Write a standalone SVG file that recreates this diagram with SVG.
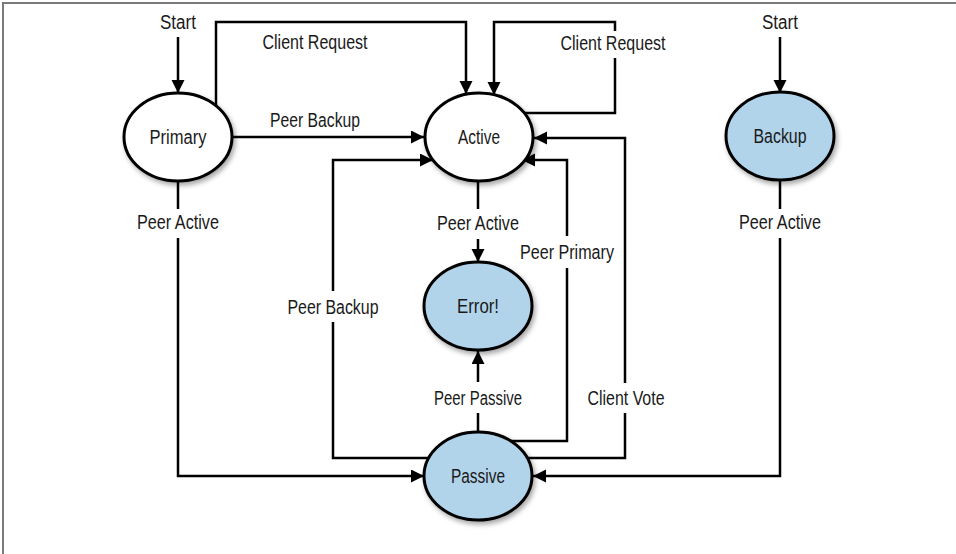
<svg xmlns="http://www.w3.org/2000/svg" width="956" height="554" viewBox="0 0 956 554">
<style>
.node{stroke:#000;stroke-width:3;filter:url(#sh)}
.w{fill:#fff}
.b{fill:#b2d4ea}
.t{font-family:"Liberation Sans",Arial,sans-serif;font-size:19.5px;fill:#1a1a1a;text-anchor:middle;dominant-baseline:central}
.c{fill:none;stroke:#000;stroke-width:2.5;marker-end:url(#ah)}
</style>
<defs>
<marker id="ah" markerUnits="userSpaceOnUse" markerWidth="14" markerHeight="14" refX="13" refY="6.5" orient="auto">
<path d="M0,0 L13,6.5 L0,13 z" fill="#000"/>
</marker>
<filter id="sh" x="-20%" y="-20%" width="150%" height="150%">
<feDropShadow dx="2" dy="3" stdDeviation="2.5" flood-color="#000" flood-opacity="0.35"/>
</filter>
</defs>
<rect width="956" height="554" fill="#fff"/>
<path d="M3,554 V3 H956" fill="none" stroke="#7a7a7a" stroke-width="2"/>

<g id="connectors">
<path class="c" d="M178,37 V93"/>
<path class="c" d="M216,106 V22 H466 V94"/>
<path class="c" d="M523,113 H615 V58 M615,31 V22 H494 V95"/>
<path class="c" d="M232,137 H424"/>
<path class="c" d="M178,181 V209 M178,238 V476 H424"/>
<path class="c" d="M478,181 V209 M478,239 V262"/>
<path class="c" d="M478,432 V413 M478,382 V351"/>
<path class="c" d="M429,458 H333 V322 M333,291 V160 H433"/>
<path class="c" d="M511,441 H567 V268 M567,236 V160 H522"/>
<path class="c" d="M527,458 H625 V413 M625,383 V138 H534"/>
<path class="c" d="M780,37 V93"/>
<path class="c" d="M780,181 V209 M780,238 V476 H533"/>
</g>

<g id="labels">
<text class="t" x="178" y="22" textLength="36" lengthAdjust="spacingAndGlyphs">Start</text>
<text class="t" x="780" y="22" textLength="36" lengthAdjust="spacingAndGlyphs">Start</text>
<text class="t" x="315" y="42" textLength="105" lengthAdjust="spacingAndGlyphs">Client Request</text>
<text class="t" x="613" y="43" textLength="105" lengthAdjust="spacingAndGlyphs">Client Request</text>
<text class="t" x="315" y="120" textLength="90" lengthAdjust="spacingAndGlyphs">Peer Backup</text>
<text class="t" x="178" y="222" textLength="82" lengthAdjust="spacingAndGlyphs">Peer Active</text>
<text class="t" x="478" y="223" textLength="82" lengthAdjust="spacingAndGlyphs">Peer Active</text>
<text class="t" x="780" y="222" textLength="82" lengthAdjust="spacingAndGlyphs">Peer Active</text>
<text class="t" x="567" y="252" textLength="94" lengthAdjust="spacingAndGlyphs">Peer Primary</text>
<text class="t" x="333" y="307" textLength="91" lengthAdjust="spacingAndGlyphs">Peer Backup</text>
<text class="t" x="478" y="398" textLength="88" lengthAdjust="spacingAndGlyphs">Peer Passive</text>
<text class="t" x="626" y="398" textLength="77" lengthAdjust="spacingAndGlyphs">Client Vote</text>
</g>

<g id="primary">
<ellipse class="node w" cx="178" cy="137" rx="54" ry="44"/>
<text class="t" x="178" y="137" textLength="57" lengthAdjust="spacingAndGlyphs">Primary</text>
</g>
<g id="active">
<ellipse class="node w" cx="479" cy="137" rx="54" ry="44"/>
<text class="t" x="479" y="137" textLength="42" lengthAdjust="spacingAndGlyphs">Active</text>
</g>
<g id="backup">
<ellipse class="node b" cx="780" cy="136" rx="54" ry="44"/>
<text class="t" x="780" y="136" textLength="53" lengthAdjust="spacingAndGlyphs">Backup</text>
</g>
<g id="error">
<ellipse class="node b" cx="478" cy="306" rx="54" ry="44"/>
<text class="t" x="478" y="306" textLength="42" lengthAdjust="spacingAndGlyphs">Error!</text>
</g>
<g id="passive">
<ellipse class="node b" cx="478" cy="476" rx="54" ry="44"/>
<text class="t" x="478" y="476" textLength="54" lengthAdjust="spacingAndGlyphs">Passive</text>
</g>
</svg>
